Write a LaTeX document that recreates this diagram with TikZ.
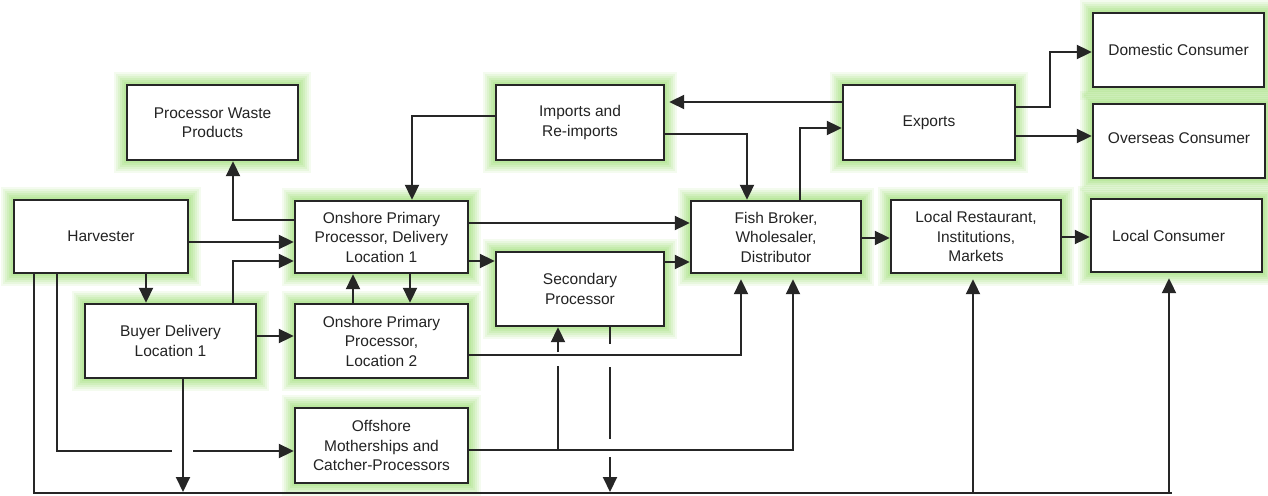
\documentclass[tikz,border=0pt]{standalone}
\usepackage{fontspec}
\setmainfont{Liberation Sans}
\usetikzlibrary{arrows.meta}
\definecolor{glowc}{RGB}{150,222,105}
\definecolor{txt}{RGB}{35,35,35}
\tikzset{
  glow/.style={
    preaction={draw=glowc, line width=26pt, draw opacity=0.10, rounded corners=13pt},
    preaction={draw=glowc, line width=22pt, draw opacity=0.12, rounded corners=11pt},
    preaction={draw=glowc, line width=18pt, draw opacity=0.14, rounded corners=9pt},
    preaction={draw=glowc, line width=14pt, draw opacity=0.16, rounded corners=7pt},
    preaction={draw=glowc, line width=10pt, draw opacity=0.18, rounded corners=5pt},
    preaction={draw=glowc, line width=6pt, draw opacity=0.2, rounded corners=3pt}},
  box/.style={glow, draw=black!85, line width=2.4pt, fill=white, inner sep=0pt,
    align=center, text=txt, font=\fontsize{15.5}{19.5}\selectfont},
  arr/.style={-{Triangle[length=15pt,width=14pt]}, line width=2pt, black!85},
  ln/.style={line width=2pt, black!85},
}
\newcommand{\bx}[6]{\node[box, minimum width=#4pt, minimum height=#5pt] (#1) at (#2,#3) {#6};}
\begin{document}
\begin{tikzpicture}[x=1pt,y=-1pt]
\useasboundingbox (0,0) rectangle (1268,495);
\fill[white] (0,0) rectangle (1268,495);
\bx{harv}{101}{236.5}{174}{73}{Harvester}
\bx{buyer}{170.5}{341}{171}{74}{Buyer Delivery\\Location 1}
\bx{opp1}{381.5}{237}{173}{72}{Onshore Primary\\Processor, Delivery\\Location 1}
\bx{opp2}{381.5}{341}{173}{74}{Onshore Primary\\Processor,\\Location 2}
\bx{off}{381.5}{445.5}{173}{75}{Offshore\\Motherships and\\Catcher-Processors}
\bx{pwp}{212.5}{122.5}{171}{75}{Processor Waste\\Products}
\bx{imp}{580}{122.5}{168}{75}{Imports and\\Re-imports}
\bx{sec}{580}{289}{168}{74}{Secondary\\Processor}
\bx{fb}{776}{237}{170}{72}{Fish Broker,\\Wholesaler,\\Distributor}
\bx{exp}{929}{122.5}{172}{75}{Exports}
\bx{dom}{1178.5}{50}{171}{74}{Domestic Consumer}
\bx{ovs}{1179}{141}{172}{74}{\raisebox{5pt}{Overseas Consumer}}
\bx{lr}{976}{236.5}{170}{73}{Local Restaurant,\\Institutions,\\Markets}
\bx{lc}{1176.5}{235.5}{171}{73}{Local Consumer\hspace*{16pt}}
% connectors
\draw[arr] (harv.east |- 0,242) -- (opp1.west |- 0,242);
\draw[arr] (buyer.north -| 233,0) |- (opp1.west |- 0,261);
\draw[arr] (harv.south -| 146,0) -- (buyer.north -| 146,0);
\draw[arr] (buyer.east |- 0,336) -- (opp2.west |- 0,336);
\draw[arr] (opp2.north -| 353,0) -- (opp1.south -| 353,0);
\draw[arr] (opp1.south -| 410,0) -- (opp2.north -| 410,0);
\coordinate (g1) at (172,451);
\coordinate (g2) at (193,451);
\draw[ln] (harv.south -| 57,0) |- (g1);
\draw[arr] (g2) -- (off.west |- g2);
\coordinate (b1) at (183,492);
\draw[arr] (buyer.south -| b1) -- (b1);
\coordinate (bend) at (1172,493);
\draw[ln] (harv.south -| 34,0) |- (bend);
\draw[arr, shorten >=5pt] (973,493) -- (lr.south -| 973,0);
\draw[arr, shorten >=5pt] (1169,493) -- (lc.south -| 1169,0);
\draw[arr] (opp1.west |- 0,220) -| (pwp.south -| 233,0);
\draw[arr] (imp.west |- 0,116) -| (opp1.north -| 412,0);
\draw[arr] (imp.east |- 0,134) -| (fb.north -| 747,0);
\draw[arr, shorten >=4pt] (exp.west |- 0,102) -- (imp.east |- 0,102);
\draw[arr] (fb.north -| 800,0) |- (exp.west |- 0,128);
\draw[arr] (opp1.east |- 0,223) -- (fb.west |- 0,223);
\draw[arr] (opp1.east |- 0,261) -- (sec.west |- 0,261);
\draw[arr] (sec.east |- 0,262) -- (fb.west |- 0,262);
\draw[arr, shorten >=5pt] (opp2.east |- 0,355) -| (fb.south -| 741,0);
\draw[arr, shorten >=5pt] (off.east |- 0,450) -| (fb.south -| 793,0);
\coordinate (s1) at (558,450);
\coordinate (s2) at (558,366);
\coordinate (s3) at (558,352);
\draw[ln] (s1) -- (s2);
\draw[arr] (s3) -- (sec.south -| s3);
\coordinate (d1) at (610,344);
\coordinate (d2) at (610,367);
\coordinate (d3) at (610,439);
\coordinate (d4) at (610,457);
\coordinate (d5) at (610,492);
\draw[ln] (sec.south -| d1) -- (d1);
\draw[ln] (d2) -- (d3);
\draw[arr] (d4) -- (d5);
\draw[arr] (fb.east |- 0,238) -- (lr.west |- 0,238);
\draw[arr] (lr.east |- 0,237) -- (lc.west |- 0,237);
\coordinate (k1) at (1050,52);
\draw[arr] (exp.east |- 0,107) -| (k1) -- (dom.west |- k1);
\draw[arr] (exp.east |- 0,136) -- (ovs.west |- 0,136);
\end{tikzpicture}
\end{document}
